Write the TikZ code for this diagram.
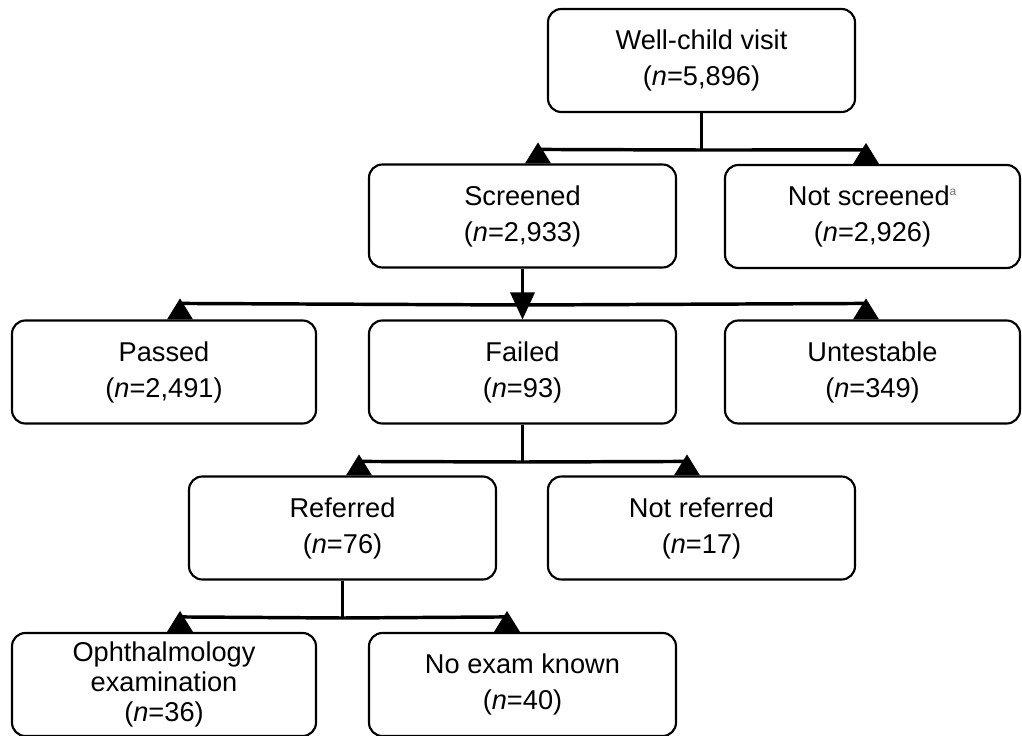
\documentclass[tikz,border=0pt]{standalone}
\usepackage{fontspec}
\setmainfont{Liberation Sans}
\usetikzlibrary{calc}
\newcommand\mytriup[1]{\fill (#1) ++(-13,0) -- ++(13,-21) -- ++(13,21) -- cycle;}
\begin{document}
\begin{tikzpicture}[x=0.75pt,y=-0.75pt,
  box/.style={draw=black, line width=1.6pt, rounded corners=10pt, inner sep=0pt,
    minimum width=#1*0.75pt, minimum height=103*0.75pt, align=center,
    font=\fontsize{20.4}{27}\selectfont},
  box/.default=307,
  conn/.style={line width=2.6pt}]
\useasboundingbox (0,0) rectangle (1022,736);
% nodes
\node[box] (well) at (701.5,60.5) {Well-child visit\\(\textit{n}=5,896)};
\node[box] (scr) at (522.5,216) {Screened\\(\textit{n}=2,933)};
\node[box=295] (nots) at (872.5,216.5) {Not screened\textsuperscript{\fontsize{9}{9}\selectfont\color{black!55}a}\\(\textit{n}=2,926)};
\node[box=304] (pass) at (164,372) {Passed\\(\textit{n}=2,491)};
\node[box] (fail) at (522.5,372) {Failed\\(\textit{n}=93)};
\node[box=295] (unt) at (872.5,372) {Untestable\\(\textit{n}=349)};
\node[box] (ref) at (342.5,528) {Referred\\(\textit{n}=76)};
\node[box] (notref) at (701.5,528) {Not referred\\(\textit{n}=17)};
\node[box=304, font=\fontsize{20.4}{22.5}\selectfont] (oph) at (164,684.5) {Ophthalmology\\examination\\(\textit{n}=36)};
\node[box] (noex) at (522.5,684.5) {No exam known\\(\textit{n}=40)};
% level 1
\draw[conn] (well.south) -- (well.south |- 0,150) coordinate (j1);
\draw[conn] ($(scr.north)+(15.5,-14)$) -- (j1) -- ($(nots.north)+(-8,-14)$);
\mytriup{$(scr.north)+(15.5,0)$}
\mytriup{$(nots.north)+(-6.5,0)$}
% level 2
\draw[conn] (scr.south) -- ($(fail.north)+(0,-10)$);
\fill ($(fail.north)+(-12.5,-27)$) -- (fail.north) -- ($(fail.north)+(12.5,-27)$) -- cycle;
\coordinate (j2) at (scr.south |- 0,305);
\draw[conn] ($(pass.north)+(16,-16)$) -- (j2) -- ($(unt.north)+(-8,-16)$);
\mytriup{$(pass.north)+(16,0)$}
\mytriup{$(unt.north)+(-6.5,0)$}
% level 3
\draw[conn] (fail.south) -- (fail.south |- 0,462) coordinate (j3);
\draw[conn] ($(ref.north)+(16.5,-14)$) -- (j3) -- ($(notref.north)+(-16,-14)$);
\mytriup{$(ref.north)+(16.5,0)$}
\mytriup{$(notref.north)+(-14.5,0)$}
% level 4
\draw[conn] (ref.south) -- (ref.south |- 0,618) coordinate (j4);
\draw[conn] ($(oph.north)+(16,-15)$) -- (j4) -- ($(noex.north)+(-17,-15)$);
\mytriup{$(oph.north)+(16,0)$}
\mytriup{$(noex.north)+(-15.5,0)$}
\end{tikzpicture}
\end{document}
